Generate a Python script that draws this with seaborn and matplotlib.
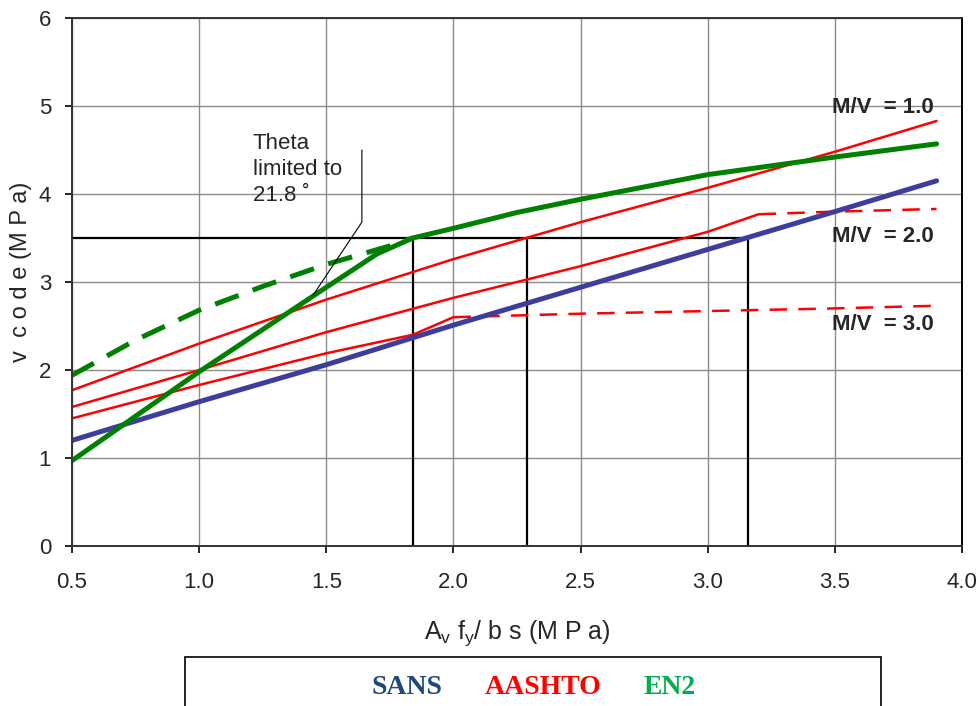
import matplotlib
matplotlib.use('Agg')
import matplotlib.pyplot as plt
from matplotlib import font_manager
from matplotlib.patches import Rectangle
import pandas as pd
import seaborn as sns

# Data (x = Av fy / b s, y = v code, both MPa)
sans_x = [0.5, 1.0, 1.5, 2.0, 2.5, 3.0, 3.5, 3.9]
sans_v = [1.20, 1.64, 2.06, 2.51, 2.94, 3.37, 3.80, 4.15]

aashto1_x = [0.5, 1.0, 1.5, 2.0, 2.5, 3.0, 3.5, 3.9]
aashto1_v = [1.77, 2.30, 2.80, 3.26, 3.68, 4.07, 4.48, 4.83]

aashto2_x = [0.5, 1.0, 1.5, 2.0, 2.5, 3.0, 3.2]
aashto2_v = [1.58, 2.00, 2.43, 2.82, 3.18, 3.57, 3.77]
aashto2_flat_x = [3.2, 3.5, 3.9]
aashto2_flat_v = [3.77, 3.80, 3.83]

aashto3_x = [0.5, 1.0, 1.5, 1.84, 2.0]
aashto3_v = [1.45, 1.83, 2.19, 2.40, 2.60]
aashto3_flat_x = [2.0, 2.5, 3.0, 3.5, 3.9]
aashto3_flat_v = [2.60, 2.64, 2.67, 2.70, 2.73]

en2_x = [0.5, 1.0, 1.5, 1.7, 1.84, 2.0, 2.25, 2.5, 3.0, 3.5, 3.9]
en2_v = [0.97, 1.98, 2.94, 3.32, 3.50, 3.61, 3.79, 3.94, 4.22, 4.42, 4.57]
en2_theta_x = [0.5, 0.75, 1.0, 1.25, 1.5, 1.75, 1.84]
en2_theta_v = [1.94, 2.34, 2.68, 2.95, 3.20, 3.41, 3.50]

# design level and the three intersection points
v_design = 3.5
x_hits = [1.84, 2.29, 3.16]

# leader line for the theta note
leader_x = [1.64, 1.64, 1.448]
leader_v = [4.50, 3.68, 2.85]

mv_labels = ['M/V  = 1.0', 'M/V  = 2.0', 'M/V  = 3.0']
mv_label_v = [4.98, 3.52, 2.52]
legend_names = ['SANS', 'AASHTO', 'EN2']
legend_colors = ['#1f497d', '#ff0000', '#00b050']

blue = '#3d3d9e'
red = '#ff0000'
green = '#008000'

sns.set_style('whitegrid')
avail = {f.name for f in font_manager.fontManager.ttflist}
narrow = 'Liberation Sans Narrow' if 'Liberation Sans Narrow' in avail else 'Liberation Sans'
plt.rcParams['font.family'] = [narrow, 'DejaVu Sans']
plt.rcParams['mathtext.fontset'] = 'custom'
plt.rcParams['mathtext.rm'] = narrow
plt.rcParams['mathtext.it'] = narrow

fig = plt.figure(figsize=(9.79, 7.06), dpi=100)
ax = fig.add_axes([72 / 979, 1 - 546 / 706, (962 - 72) / 979, (546 - 18) / 706])


def line(x, y, color, lw, dashes=None):
    df = pd.DataFrame({'x': x, 'y': y})
    l = sns.lineplot(data=df, x='x', y='y', ax=ax, color=color, linewidth=lw,
                     sort=False, estimator=None)
    ln = l.get_lines()[-1]
    ln.set_solid_joinstyle('round')
    if dashes is not None:
        ln.set_dashes(dashes)
        ln.set_dash_capstyle('butt')
    return ln


# reference lines
ax.plot([sans_x[0], x_hits[-1]], [v_design, v_design], color='black', lw=1.6, zorder=2)
for xh in x_hits:
    ax.plot([xh, xh], [0, v_design], color='black', lw=1.6, zorder=2)

line(aashto1_x, aashto1_v, red, 1.8)
line(aashto2_x, aashto2_v, red, 1.8)
line(aashto2_flat_x, aashto2_flat_v, red, 1.8, dashes=(7, 4.5))
line(aashto3_x, aashto3_v, red, 1.8)
line(aashto3_flat_x, aashto3_flat_v, red, 1.8, dashes=(7, 4.5))
line(sans_x, sans_v, blue, 3.6)
line(en2_x, en2_v, green, 3.6)
line(en2_theta_x, en2_theta_v, green, 3.6, dashes=(5, 3))

# theta note
ax.plot(leader_x, leader_v, color='black', lw=0.8)
ax.text(1.21, 4.69, 'Theta\nlimited to\n21.8 \u02da', fontsize=16, va='top', ha='left',
        linespacing=1.3, family=[narrow, 'DejaVu Sans'])

for lab, yv in zip(mv_labels, mv_label_v):
    ax.text(3.89, yv, lab, fontsize=16, fontweight='bold', ha='right', va='center',
            family=[narrow, 'DejaVu Sans'])

ax.set_xlim(0.5, 4.0)
ax.set_ylim(0, 6)
ax.set_xticks([0.5, 1.0, 1.5, 2.0, 2.5, 3.0, 3.5, 4.0])
ax.set_xticklabels(['0.5', '1.0', '1.5', '2.0', '2.5', '3.0', '3.5', '4.0'])
ax.set_yticks(range(0, 7))
ax.grid(True, color='#8c8c8c', lw=1.0)
ax.tick_params(axis='both', which='both', length=5, width=1.2, color='black',
               labelsize=16, direction='out', left=True, bottom=True)
ax.tick_params(axis='x', pad=14)
ax.tick_params(axis='y', pad=10)
for s in ax.spines.values():
    s.set_color('#333333')
    s.set_linewidth(1.4)
ax.spines['right'].set_color('black')

ax.set_xlabel('A$_v$ f$_y$/ b s (M P a)', fontsize=18, labelpad=18)
ax.set_ylabel('v  c o d e (M P a)', fontsize=17)
ax.yaxis.set_label_coords(-40 / 890, (546 - 272) / 528)

# legend box at the bottom
fig.patches.append(Rectangle((185 / 979, -0.02), (881 - 185) / 979, 0.02 + (706 - 657) / 706,
                             transform=fig.transFigure, fill=False, edgecolor='black', lw=1.2))
for name, col, xc in zip(legend_names, legend_colors, [407, 543, 670]):
    fig.text(xc / 979, (706 - 687) / 706, name, color=col, fontsize=20, fontweight='bold',
             family='Liberation Serif', ha='center', va='center')

fig.savefig('out.png', dpi=100)
